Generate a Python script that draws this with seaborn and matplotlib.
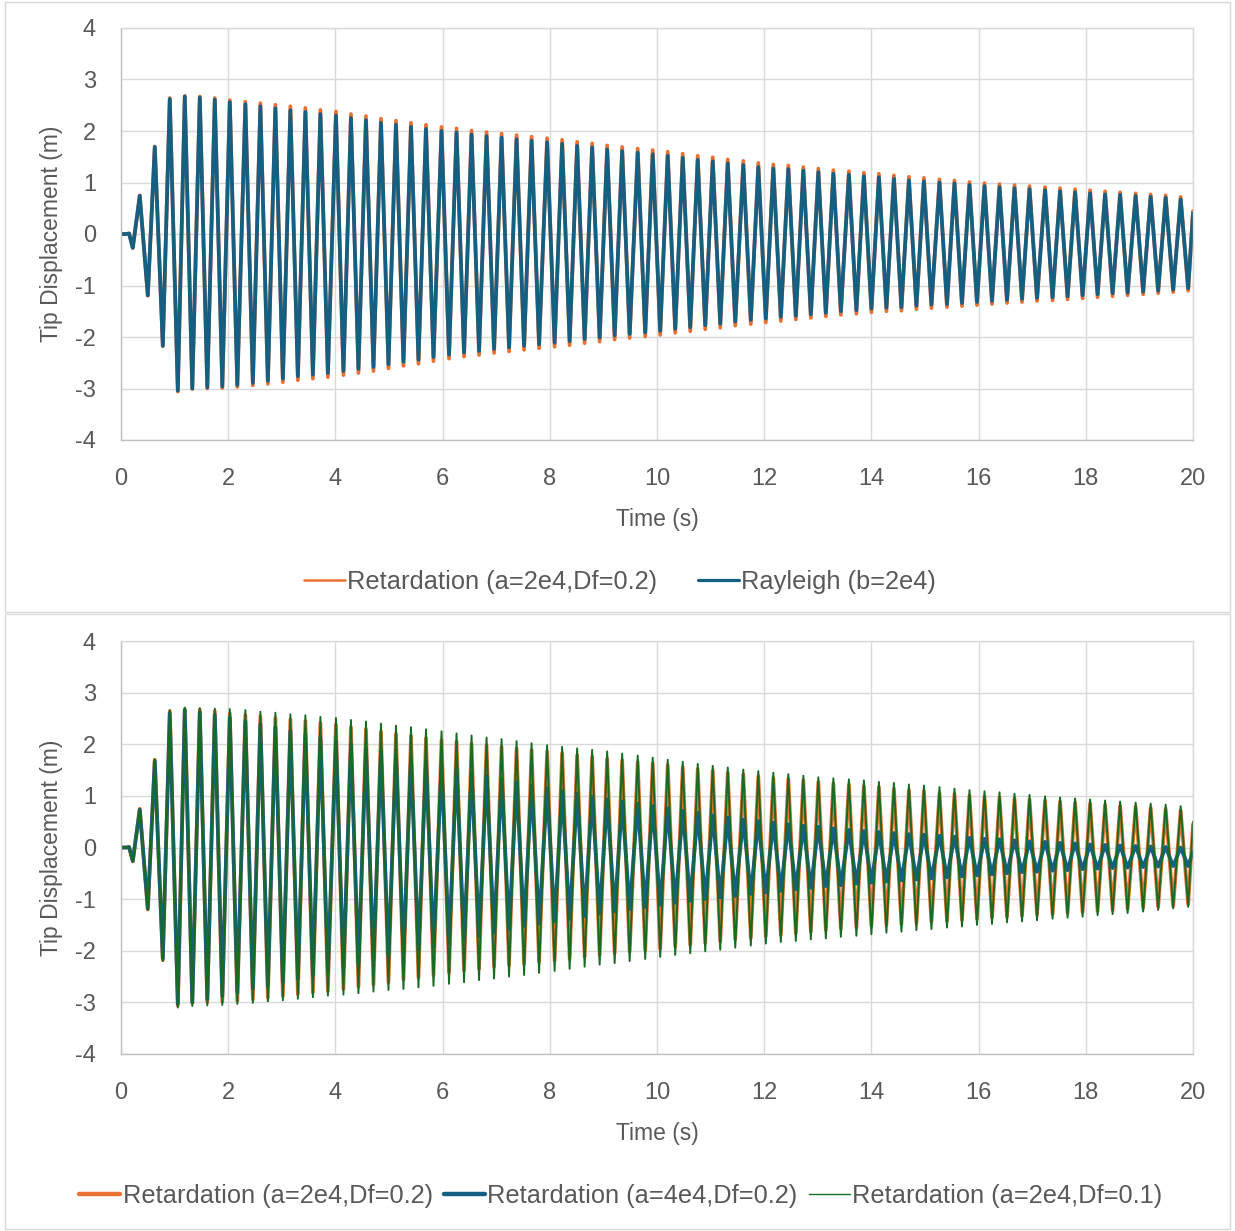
import matplotlib
matplotlib.use("Agg")
import numpy as np
import pandas as pd
import seaborn as sns
import matplotlib.pyplot as plt
from matplotlib import font_manager
from matplotlib.lines import Line2D
from matplotlib.patches import Rectangle

# ---------------- data ----------------
# transient part before the steady oscillation
start_t = [0.0, 0.10, 0.15, 0.22, 0.35, 0.50, 0.63, 0.78, 0.91, 1.06]
start_orange = [0, 0, 0.01, -0.27, 0.75, -1.20, 1.70, -2.18, 2.64, -3.06]
start_rayleigh = [0, 0, 0.01, -0.27, 0.74, -1.19, 1.69, -2.17, 2.62, -3.04]
start_green = [0, 0, 0.01, -0.27, 0.75, -1.21, 1.71, -2.20, 2.66, -3.10]
start_blue4 = [0, 0, 0.01, -0.26, 0.73, -1.18, 1.67, -2.15, 2.60, -3.03]

# times of the positive peaks (troughs follow half a period later)
peak_t = [1.19, 1.47, 1.75, 2.03, 2.32, 2.60, 2.88, 3.16, 3.44, 3.72,
          4.01, 4.29, 4.57, 4.85, 5.13, 5.41, 5.69, 5.98, 6.26, 6.54,
          6.82, 7.10, 7.38, 7.66, 7.95, 8.23, 8.51, 8.79, 9.07, 9.35,
          9.64, 9.92, 10.20, 10.48, 10.76, 11.04, 11.32, 11.61, 11.89, 12.17,
          12.45, 12.73, 13.01, 13.29, 13.58, 13.86, 14.14, 14.42, 14.70, 14.98,
          15.27, 15.55, 15.83, 16.11, 16.39, 16.67, 16.95, 17.24, 17.52, 17.80,
          18.08, 18.36, 18.64, 18.93, 19.21, 19.49, 19.77]
HALF = 0.14
end_t = 20.0

# Retardation (a=2e4, Df=0.2)
orange_pk = [2.68, 2.67, 2.64, 2.60, 2.57, 2.54, 2.51, 2.48, 2.45, 2.41,
             2.38, 2.33, 2.29, 2.24, 2.20, 2.16, 2.12, 2.08, 2.05, 2.01,
             1.98, 1.95, 1.92, 1.89, 1.86, 1.83, 1.79, 1.76, 1.72, 1.69,
             1.66, 1.63, 1.60, 1.56, 1.52, 1.49, 1.45, 1.42, 1.38, 1.35,
             1.33, 1.30, 1.27, 1.24, 1.22, 1.19, 1.17, 1.14, 1.11, 1.09,
             1.06, 1.04, 1.01, 0.99, 0.97, 0.95, 0.93, 0.91, 0.89, 0.87,
             0.85, 0.83, 0.81, 0.79, 0.77, 0.75, 0.72]
orange_tr = [-3.01, -3.00, -2.99, -2.97, -2.94, -2.91, -2.88, -2.84, -2.81, -2.78,
             -2.74, -2.70, -2.66, -2.61, -2.56, -2.52, -2.47, -2.42, -2.38, -2.35,
             -2.31, -2.28, -2.25, -2.22, -2.19, -2.16, -2.12, -2.09, -2.05, -2.02,
             -1.99, -1.96, -1.92, -1.89, -1.85, -1.82, -1.78, -1.75, -1.72, -1.69,
             -1.66, -1.63, -1.60, -1.57, -1.55, -1.52, -1.50, -1.49, -1.46, -1.44,
             -1.42, -1.40, -1.38, -1.36, -1.34, -1.32, -1.30, -1.29, -1.27, -1.25,
             -1.23, -1.21, -1.19, -1.17, -1.15, -1.13, -1.10]
orange_end = 0.45

# Rayleigh (b=2e4)
rayleigh_pk = [2.67, 2.65, 2.61, 2.56, 2.52, 2.48, 2.44, 2.40, 2.37, 2.33,
               2.30, 2.25, 2.21, 2.16, 2.12, 2.08, 2.04, 2.00, 1.97, 1.93,
               1.90, 1.87, 1.84, 1.81, 1.78, 1.75, 1.71, 1.68, 1.64, 1.61,
               1.58, 1.55, 1.52, 1.48, 1.44, 1.41, 1.37, 1.34, 1.30, 1.27,
               1.26, 1.23, 1.20, 1.17, 1.15, 1.12, 1.10, 1.07, 1.04, 1.02,
               1.00, 0.98, 0.95, 0.93, 0.91, 0.89, 0.87, 0.85, 0.83, 0.81,
               0.79, 0.77, 0.76, 0.74, 0.72, 0.70, 0.67]
rayleigh_tr = [-3.00, -2.98, -2.96, -2.93, -2.89, -2.85, -2.81, -2.76, -2.73, -2.70,
               -2.66, -2.62, -2.58, -2.53, -2.48, -2.44, -2.39, -2.34, -2.30, -2.27,
               -2.23, -2.20, -2.17, -2.14, -2.11, -2.08, -2.04, -2.01, -1.97, -1.94,
               -1.91, -1.88, -1.84, -1.81, -1.77, -1.74, -1.70, -1.67, -1.64, -1.61,
               -1.59, -1.56, -1.53, -1.50, -1.48, -1.45, -1.43, -1.42, -1.39, -1.37,
               -1.36, -1.34, -1.32, -1.30, -1.28, -1.26, -1.24, -1.23, -1.21, -1.19,
               -1.17, -1.15, -1.14, -1.12, -1.10, -1.08, -1.05]
rayleigh_end = 0.40

# Retardation (a=2e4, Df=0.1)
green_pk = [2.71, 2.70, 2.69, 2.68, 2.66, 2.63, 2.61, 2.58, 2.56, 2.53,
            2.51, 2.47, 2.44, 2.40, 2.36, 2.33, 2.29, 2.25, 2.21, 2.17,
            2.13, 2.10, 2.06, 2.02, 1.98, 1.95, 1.92, 1.89, 1.86, 1.82,
            1.78, 1.74, 1.70, 1.66, 1.62, 1.58, 1.55, 1.51, 1.48, 1.45,
            1.42, 1.39, 1.36, 1.34, 1.32, 1.30, 1.27, 1.25, 1.22, 1.20,
            1.17, 1.14, 1.11, 1.09, 1.07, 1.04, 1.02, 0.99, 0.97, 0.95,
            0.93, 0.91, 0.89, 0.87, 0.85, 0.83, 0.80]
green_tr = [-3.07, -3.06, -3.05, -3.03, -3.01, -2.98, -2.96, -2.93, -2.90, -2.87,
            -2.85, -2.82, -2.79, -2.76, -2.74, -2.71, -2.68, -2.64, -2.61, -2.57,
            -2.54, -2.50, -2.47, -2.43, -2.39, -2.35, -2.31, -2.27, -2.24, -2.20,
            -2.16, -2.12, -2.08, -2.05, -2.01, -1.98, -1.94, -1.90, -1.86, -1.83,
            -1.81, -1.78, -1.76, -1.73, -1.71, -1.68, -1.65, -1.63, -1.60, -1.58,
            -1.55, -1.53, -1.50, -1.48, -1.45, -1.43, -1.41, -1.38, -1.36, -1.34,
            -1.31, -1.29, -1.27, -1.24, -1.21, -1.18, -1.15]
green_end = 0.50

# Retardation (a=4e4, Df=0.2)
blue4_pk = [2.66, 2.62, 2.57, 2.52, 2.45, 2.39, 2.33, 2.26, 2.19, 2.13,
            2.06, 1.99, 1.92, 1.86, 1.79, 1.72, 1.65, 1.58, 1.52, 1.45,
            1.39, 1.33, 1.26, 1.20, 1.14, 1.09, 1.04, 0.98, 0.93, 0.89,
            0.85, 0.80, 0.76, 0.71, 0.67, 0.62, 0.58, 0.54, 0.51, 0.48,
            0.45, 0.42, 0.40, 0.37, 0.34, 0.32, 0.30, 0.28, 0.26, 0.25,
            0.23, 0.21, 0.19, 0.17, 0.16, 0.14, 0.12, 0.11, 0.09, 0.08,
            0.06, 0.05, 0.04, 0.03, 0.02, 0.01, 0.00]
blue4_tr = [-3.00, -2.94, -2.88, -2.81, -2.74, -2.68, -2.61, -2.54, -2.48, -2.41,
            -2.34, -2.27, -2.19, -2.12, -2.05, -1.98, -1.92, -1.85, -1.78, -1.71,
            -1.64, -1.58, -1.52, -1.47, -1.43, -1.38, -1.33, -1.28, -1.24, -1.19,
            -1.15, -1.11, -1.07, -1.03, -1.00, -0.97, -0.94, -0.90, -0.87, -0.84,
            -0.81, -0.78, -0.75, -0.73, -0.70, -0.68, -0.66, -0.64, -0.62, -0.60,
            -0.58, -0.56, -0.54, -0.52, -0.50, -0.48, -0.47, -0.45, -0.44, -0.42,
            -0.41, -0.40, -0.39, -0.38, -0.37, -0.36, -0.36]
blue4_end = -0.08

lbl_r2 = "Retardation (a=2e4,Df=0.2)"
lbl_ray = "Rayleigh (b=2e4)"
lbl_r4 = "Retardation (a=4e4,Df=0.2)"
lbl_r1 = "Retardation (a=2e4,Df=0.1)"

x_ticks = [0, 2, 4, 6, 8, 10, 12, 14, 16, 18, 20]
y_ticks = [-4, -3, -2, -1, 0, 1, 2, 3, 4]

ORANGE = "#E97132"
BLUE = "#156082"
GREEN = "#196B24"
TXT = "#595959"
GRID = "#D9D9D9"


def build(name, start_v, pk, tr, end_v):
    t = list(start_t)
    v = list(start_v)
    for tp, p, q in zip(peak_t, pk, tr):
        t += [tp, tp + HALF]
        v += [p, q]
    t.append(end_t)
    v.append(end_v)
    return pd.DataFrame({"Time": t, "Disp": v, "series": name})


df_orange = build(lbl_r2, start_orange, orange_pk, orange_tr, orange_end)
df_ray = build(lbl_ray, start_rayleigh, rayleigh_pk, rayleigh_tr, rayleigh_end)
df_blue4 = build(lbl_r4, start_blue4, blue4_pk, blue4_tr, blue4_end)
df_green = build(lbl_r1, start_green, green_pk, green_tr, green_end)

# ---------------- style ----------------
sns.set_theme(style="white")
names = {f.name for f in font_manager.fontManager.ttflist}
base = "Liberation Sans" if "Liberation Sans" in names else "DejaVu Sans"
plt.rcParams["font.family"] = [base, "DejaVu Sans"]
plt.rcParams["axes.unicode_minus"] = False

W, H = 1235, 1231
fig = plt.figure(figsize=(W / 100, H / 100), dpi=100)
fig.patch.set_facecolor("white")


def fx(px):
    return px / W


def fy(py):
    return 1 - py / H


ax1 = fig.add_axes([fx(121), fy(440), fx(1193) - fx(121), fy(28) - fy(440)])
ax2 = fig.add_axes([fx(121), fy(1054), fx(1193) - fx(121), fy(641) - fy(1054)])

LW = 2.7
sns.lineplot(data=df_orange, x="Time", y="Disp", sort=False, estimator=None,
             color=ORANGE, lw=LW, ax=ax1, legend=False)
sns.lineplot(data=df_ray, x="Time", y="Disp", sort=False, estimator=None,
             color=BLUE, lw=LW, ax=ax1, legend=False)

sns.lineplot(data=df_orange, x="Time", y="Disp", sort=False, estimator=None,
             color=ORANGE, lw=LW, ax=ax2, legend=False)
sns.lineplot(data=df_blue4, x="Time", y="Disp", sort=False, estimator=None,
             color=BLUE, lw=LW, ax=ax2, legend=False)
sns.lineplot(data=df_green, x="Time", y="Disp", sort=False, estimator=None,
             color=GREEN, lw=1.4, ax=ax2, legend=False)

for ax in (ax1, ax2):
    ax.set_xlim(0, 20)
    ax.set_ylim(-4, 4)
    ax.set_xticks(x_ticks)
    ax.set_yticks(y_ticks)
    ax.set_xticklabels([str(v) for v in x_ticks])
    ax.set_yticklabels([str(v) for v in y_ticks])
    ax.grid(True, color=GRID, lw=1.0)
    ax.set_axisbelow(True)
    for s in ("top", "right"):
        ax.spines[s].set_visible(True)
        ax.spines[s].set_color(GRID)
        ax.spines[s].set_linewidth(1.0)
    for s in ("left", "bottom"):
        ax.spines[s].set_color("#BFBFBF")
        ax.spines[s].set_linewidth(1.0)
    ax.tick_params(axis="both", length=0, labelsize=17, labelcolor=TXT)
    ax.tick_params(axis="x", pad=20)
    ax.tick_params(axis="y", pad=18)
    ax.set_xlabel("Time (s)", fontsize=16.5, color=TXT)
    ax.set_ylabel("Tip Displacement (m)", fontsize=16.5, color=TXT)
    ax.xaxis.set_label_coords(0.5, -0.165)
    ax.yaxis.set_label_coords(-0.054, 0.5)
    ax.set_facecolor("white")

# legends
h1 = [Line2D([], [], color=ORANGE, lw=1.8), Line2D([], [], color=BLUE, lw=2.3)]
fig.legend(h1, [lbl_r2, lbl_ray], loc="center", bbox_to_anchor=(fx(620), fy(582)),
           ncol=2, frameon=False, fontsize=18.3, labelcolor=TXT,
           handlelength=1.6, handletextpad=0.1, columnspacing=1.6)
h2 = [Line2D([], [], color=ORANGE, lw=3.2), Line2D([], [], color=BLUE, lw=3.2),
      Line2D([], [], color=GREEN, lw=1.0)]
fig.legend(h2, [lbl_r2, lbl_r4, lbl_r1], loc="center", bbox_to_anchor=(fx(621), fy(1196)),
           ncol=3, frameon=False, fontsize=18.3, labelcolor=TXT,
           handlelength=1.6, handletextpad=0.1, columnspacing=0.45)

# chart-area borders
fig.add_artist(Rectangle((fx(5), fy(612)), fx(1230) - fx(5), fy(2) - fy(612),
                         transform=fig.transFigure, fill=False, ec=GRID, lw=1.0))
fig.add_artist(Rectangle((fx(5), fy(1229)), fx(1230) - fx(5), fy(614) - fy(1229),
                         transform=fig.transFigure, fill=False, ec=GRID, lw=1.0))

fig.savefig("out.png", dpi=100, facecolor="white")
